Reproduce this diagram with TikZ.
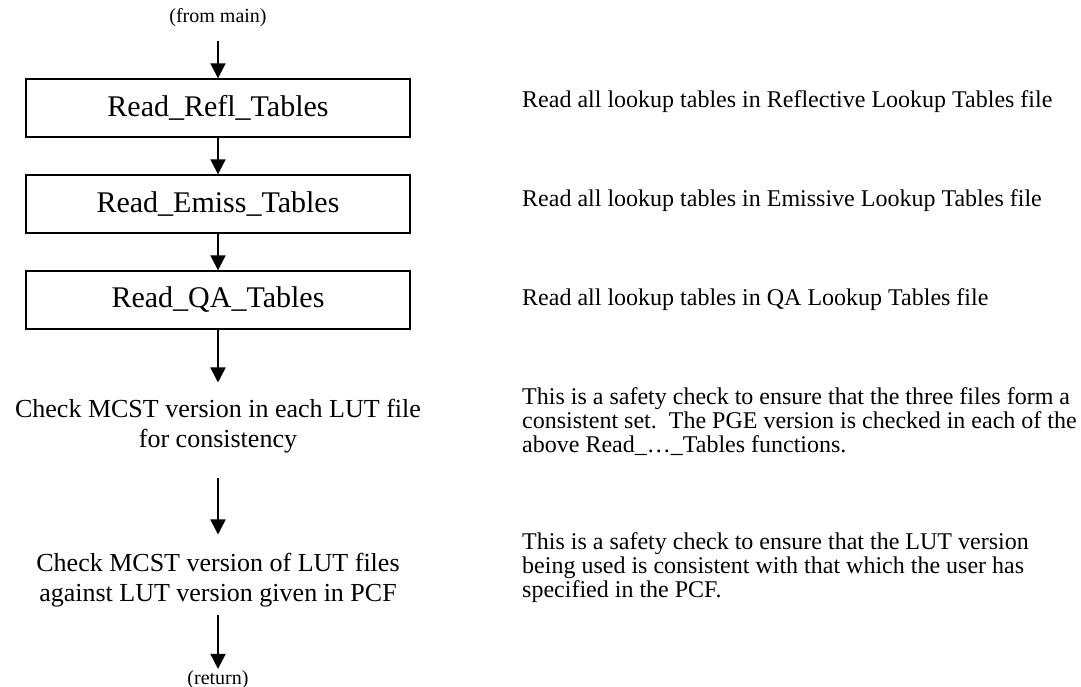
\documentclass[tikz,border=0pt]{standalone}
\usepackage{fontspec}
\setmainfont{Liberation Serif}
\usetikzlibrary{arrows.meta}
\begin{document}
\begin{tikzpicture}[x=1pt,y=-1pt,
  arr/.style={line width=1.8pt,-{Triangle[length=15pt,width=15pt]}},
  procbox/.style={draw,line width=1.8pt,minimum width=384pt,minimum height=57.5pt,inner sep=0pt,font=\fontsize{30}{34}\selectfont},
  steptext/.style={anchor=base,align=center,inner sep=0pt,font=\fontsize{26}{30}\selectfont},
  note/.style={anchor=base west,align=left,inner sep=0pt,font=\fontsize{24}{24}\selectfont},
  term/.style={anchor=base,inner sep=0pt,font=\fontsize{20}{22}\selectfont}]
\useasboundingbox (0,0) rectangle (1081,687);
% flow (multi-line nodes: base anchor = baseline of last line)
\node[term] (from) at (218,23) {(from main)};
\node[procbox] (refl) at (218,108) {Read\_Refl\_Tables};
\node[procbox] (emiss) at (218,204) {Read\_Emiss\_Tables};
\node[procbox] (qa) at (218,300) {Read\_QA\_Tables};
\node[steptext] (chk1) at (218,447) {Check MCST version in each LUT file\\for consistency};
\node[steptext] (chk2) at (218,601) {Check MCST version of LUT files\\against LUT version given in PCF};
\node[term] (ret) at (218,684) {(return)};
% connectors
\draw[arr,shorten <=13.5pt] (from) -- (refl);
\draw[arr] (refl) -- (emiss);
\draw[arr] (emiss) -- (qa);
\draw[arr,shorten >=16pt] (qa) -- (chk1);
\draw[arr,shorten <=25pt,shorten >=18pt] (chk1) -- (chk2);
\draw[arr,shorten <=8pt,shorten >=1pt] (chk2) -- (ret);
% notes
\node[note] (n1) at (522,108) {Read all lookup tables in Reflective Lookup Tables file};
\node[note] (n2) at (522,207) {Read all lookup tables in Emissive Lookup Tables file};
\node[note] (n3) at (522,305) {Read all lookup tables in QA Lookup Tables file};
\node[note] (n4) at (522,452) {This is a safety check to ensure that the three files form a\\consistent set.\ \ The PGE version is checked in each of the\\above Read\_…\_Tables functions.};
\node[note] (n5) at (522,597) {This is a safety check to ensure that the LUT version\\being used is consistent with that which the user has\\specified in the PCF.};
\end{tikzpicture}
\end{document}
